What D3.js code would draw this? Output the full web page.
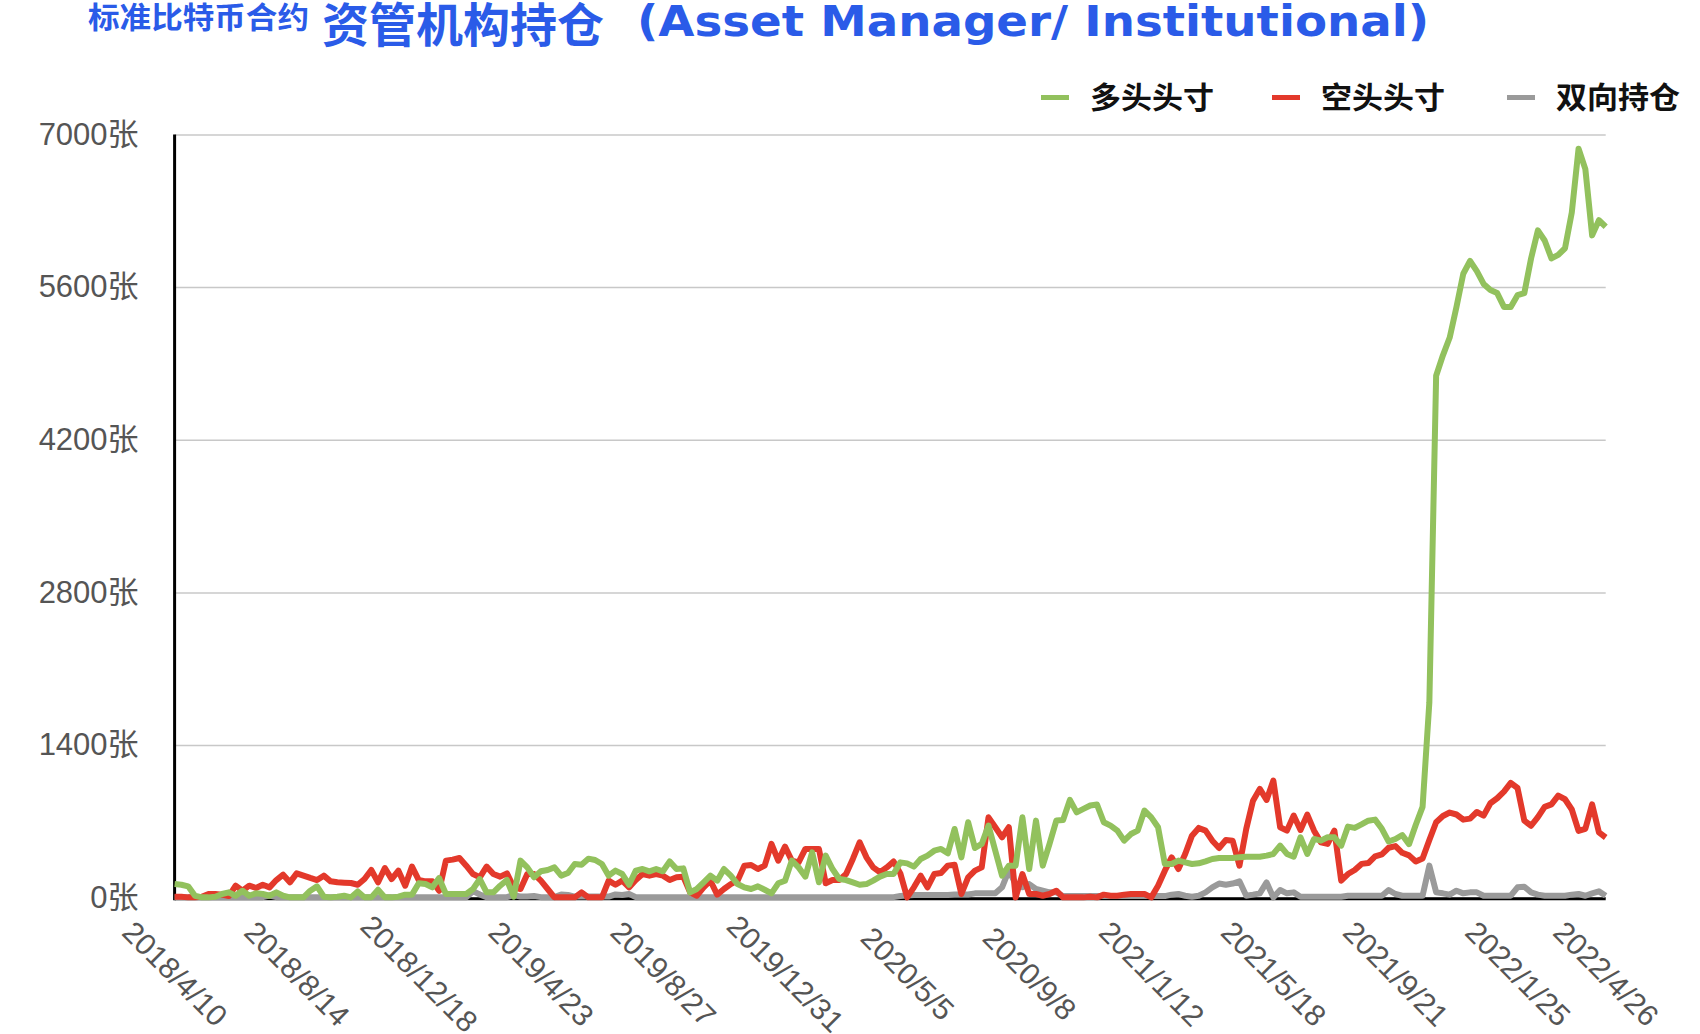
<!DOCTYPE html>
<html>
<head>
<meta charset="utf-8">
<script src="https://cdn.jsdelivr.net/npm/d3@7"></script>
<style>
  html, body { margin: 0; padding: 0; background: #ffffff; }
  svg { display: block; }
</style>
</head>
<body>
<svg id="chart" width="1700" height="1034"></svg>
<script>
// ---------- DATA ----------
const seriesNames = ["多头头寸", "空头头寸", "双向持仓"];
const seriesColors = ["#92c15d", "#e3392b", "#9a9a9a"];

const xTickLabels = ["2018/4/10", "2018/8/14", "2018/12/18", "2019/4/23", "2019/8/27", "2019/12/31",
  "2020/5/5", "2020/9/8", "2021/1/12", "2021/5/18", "2021/9/21", "2022/1/25", "2022/4/26"];
const xTickIndex = [0, 18, 36, 54, 72, 90, 108, 126, 144, 162, 180, 198, 211];
const yTicks = [0, 1400, 2800, 4200, 5600, 7000];

// 多头头寸 (long), weekly, 212 points
const longPos = [
  125, 119, 104, 18, 3, 3, 9, 34, 49, 18,
  64, 18, 40, 34, 18, 49, 18, 3, 3, 3,
  64, 104, 9, 3, 9, 18, 3, 58, 3, 3,
  73, 3, 3, 9, 28, 28, 132, 125, 95, 180,
  34, 34, 34, 34, 80, 171, 49, 49, 110, 162,
  9, 340, 278, 187, 242, 254, 278, 202, 226, 309,
  303, 358, 346, 309, 202, 248, 217, 119, 248, 263,
  242, 263, 242, 333, 263, 269, 49, 80, 141, 202,
  156, 263, 202, 125, 95, 80, 104, 73, 40, 132,
  156, 340, 278, 193, 416, 141, 386, 263, 171, 162,
  141, 119, 125, 156, 193, 217, 217, 324, 315, 285,
  355, 386, 431, 447, 407, 630, 370, 692, 456, 493,
  661, 431, 202, 294, 294, 737, 263, 707, 294, 493,
  707, 713, 897, 783, 814, 845, 854, 692, 661, 615,
  523, 584, 615, 799, 737, 646, 309, 309, 340, 324,
  309, 315, 333, 355, 364, 364, 364, 370, 376, 376,
  376, 386, 401, 477, 401, 376, 554, 401, 539, 523,
  554, 554, 477, 652, 640, 672, 706, 716, 632, 515,
  538, 575, 491, 669, 833, 1792, 4787, 4974, 5137, 5418,
  5722, 5839, 5746, 5629, 5573, 5545, 5418, 5418, 5526, 5545,
  5863, 6120, 6027, 5863, 5895, 5956, 6284, 6869, 6682, 6074,
  6213, 6153
];

// 空头头寸 (short)
const shortPos = [
  9, 9, 3, 3, 9, 34, 34, 28, 15, 110,
  64, 110, 89, 119, 95, 162, 211, 141, 223, 202,
  181, 162, 202, 150, 141, 138, 135, 119, 171, 254,
  141, 272, 171, 248, 110, 285, 162, 150, 150, 64,
  340, 349, 364, 294, 217, 187, 285, 217, 193, 223,
  95, 80, 217, 217, 156, 80, 3, 3, 3, 3,
  49, 3, 3, 3, 156, 119, 156, 95, 162, 217,
  202, 217, 202, 162, 187, 193, 49, 18, 95, 156,
  28, 80, 125, 156, 294, 300, 263, 294, 493, 340,
  468, 340, 324, 447, 447, 447, 132, 162, 162, 217,
  355, 508, 370, 278, 233, 278, 333, 223, 3, 95,
  202, 95, 217, 226, 294, 303, 34, 187, 248, 278,
  737, 646, 554, 646, 3, 217, 34, 34, 18, 34,
  64, 3, 3, 3, 3, 9, 3, 28, 18, 18,
  28, 34, 34, 34, 3, 110, 248, 370, 263, 401,
  569, 640, 615, 523, 456, 529, 523, 294, 630, 890,
  998, 897, 1074, 646, 615, 753, 621, 762, 615, 508,
  493, 615, 156, 217, 254, 310, 318, 379, 398, 458,
  473, 412, 388, 332, 360, 529, 692, 749, 781, 763,
  716, 725, 786, 753, 866, 912, 973, 1053, 1006, 707,
  660, 739, 833, 856, 936, 903, 809, 613, 632, 856,
  599, 552
];

// 双向持仓 (spreading)
const spreadPos = [
  5, 5, 5, 5, 5, 5, 5, 5, 5, 5,
  5, 5, 5, 5, 20, 5, 5, 5, 5, 5,
  5, 5, 5, 5, 5, 5, 5, 5, 5, 5,
  5, 5, 5, 5, 5, 5, 5, 5, 5, 5,
  5, 5, 5, 5, 60, 30, 5, 5, 5, 5,
  25, 10, 10, 15, 5, 5, 5, 30, 25, 10,
  10, 10, 10, 10, 10, 30, 25, 35, 5, 5,
  5, 5, 5, 5, 5, 5, 5, 5, 5, 5,
  5, 5, 5, 5, 5, 5, 5, 5, 5, 5,
  5, 5, 5, 5, 5, 5, 5, 5, 5, 5,
  5, 5, 5, 5, 5, 5, 5, 15, 20, 25,
  25, 25, 25, 25, 25, 30, 30, 30, 40, 40,
  40, 40, 95, 250, 125, 95, 125, 80, 64, 49,
  49, 15, 15, 15, 15, 15, 15, 15, 15, 15,
  15, 15, 15, 15, 15, 15, 15, 28, 34, 18,
  9, 18, 49, 95, 130, 119, 130, 150, 18, 28,
  40, 140, 3, 70, 40, 49, 9, 9, 9, 9,
  9, 9, 9, 18, 18, 18, 18, 18, 18, 70,
  34, 18, 18, 18, 18, 294, 49, 40, 28, 64,
  40, 49, 49, 18, 18, 18, 18, 18, 95, 101,
  49, 28, 18, 18, 18, 18, 28, 34, 18, 40,
  58, 18
];

// ---------- LAYOUT ----------
const svg = d3.select("#chart");
const X0 = 174.6, X1 = 1605.7, Y0 = 897.7, Y1 = 134.4;

const x = d3.scaleLinear().domain([0, longPos.length - 1]).range([X0, X1]);
const y = d3.scaleLinear().domain([0, 7000]).range([Y0, Y1]);

// Titles
svg.append("text")
  .attr("x", 88).attr("y", 28)
  .attr("font-family", "'Noto Sans CJK SC', sans-serif")
  .attr("font-weight", 700).attr("font-size", 30)
  .attr("fill", "#2a5be8")
  .attr("textLength", 221).attr("lengthAdjust", "spacingAndGlyphs")
  .text("标准比特币合约");

svg.append("text")
  .attr("x", 322).attr("y", 42)
  .attr("font-family", "'Noto Sans CJK SC', sans-serif")
  .attr("font-weight", 700).attr("font-size", 47)
  .attr("fill", "#2a5be8")
  .attr("textLength", 282).attr("lengthAdjust", "spacingAndGlyphs")
  .text("资管机构持仓");

svg.append("text")
  .attr("x", 637).attr("y", 36)
  .attr("font-family", "'DejaVu Sans Condensed', 'Liberation Sans Narrow', sans-serif")
  .attr("font-stretch", "condensed")
  .attr("font-weight", 700).attr("font-size", 42)
  .attr("fill", "#2a5be8")
  .attr("textLength", 792).attr("lengthAdjust", "spacingAndGlyphs")
  .text("(Asset Manager/ Institutional)");

// Gridlines + y labels
const yAxis = d3.axisLeft(y)
  .tickValues(yTicks)
  .tickSize(-(X1 - X0))
  .tickPadding(36)
  .tickFormat(d => d + "张");
const gy = svg.append("g").attr("transform", `translate(${X0},0)`).call(yAxis);
gy.select(".domain").remove();
gy.selectAll(".tick line").attr("stroke", "#c8c8c8").attr("stroke-width", 1.5);
gy.selectAll(".tick text")
  .attr("font-family", "'Liberation Sans', Arial, 'Noto Sans CJK SC', sans-serif")
  .attr("font-size", 31).attr("fill", "#555555");

// x axis labels
const xAxis = d3.axisBottom(x)
  .tickValues(xTickIndex)
  .tickSize(0)
  .tickFormat((d, i) => xTickLabels[i]);
const gx = svg.append("g").attr("transform", `translate(0,${Y0})`).call(xAxis);
gx.select(".domain").remove();
gx.selectAll(".tick text")
  .attr("x", 0).attr("y", 0).attr("dy", "0.35em")
  .attr("text-anchor", "middle")
  .attr("transform", "translate(0,76) rotate(45)")
  .attr("font-family", "'Liberation Sans', Arial, sans-serif")
  .attr("font-size", 30).attr("fill", "#555555");

// axis lines
svg.append("line").attr("x1", X0).attr("x2", X1).attr("y1", Y0 + 1).attr("y2", Y0 + 1)
  .attr("stroke", "#000").attr("stroke-width", 3);
svg.append("line").attr("x1", X0).attr("x2", X0).attr("y1", Y1).attr("y2", Y0 + 2.5)
  .attr("stroke", "#000").attr("stroke-width", 3);

// Series
const line = d3.line().x((d, i) => x(i)).y(d => y(d));
const drawOrder = [[spreadPos, 2], [shortPos, 1], [longPos, 0]];
drawOrder.forEach(([data, k]) => {
  svg.append("path")
    .datum(data)
    .attr("d", line)
    .attr("fill", "none")
    .attr("stroke", seriesColors[k])
    .attr("stroke-width", 6)
    .attr("stroke-linejoin", "round")
    .attr("stroke-linecap", "butt");
});

// Legend
const legendX = [1041, 1272, 1507];
const legend = svg.append("g");
seriesNames.forEach((name, k) => {
  legend.append("line")
    .attr("x1", legendX[k]).attr("x2", legendX[k] + 28)
    .attr("y1", 97.5).attr("y2", 97.5)
    .attr("stroke", seriesColors[k]).attr("stroke-width", 5);
  legend.append("text")
    .attr("x", legendX[k] + 49).attr("y", 108)
    .attr("font-family", "'Noto Sans CJK SC', sans-serif")
    .attr("font-weight", 700).attr("font-size", 30)
    .attr("fill", "#111111")
    .attr("textLength", 124).attr("lengthAdjust", "spacingAndGlyphs")
    .text(name);
});
</script>
</body>
</html>
